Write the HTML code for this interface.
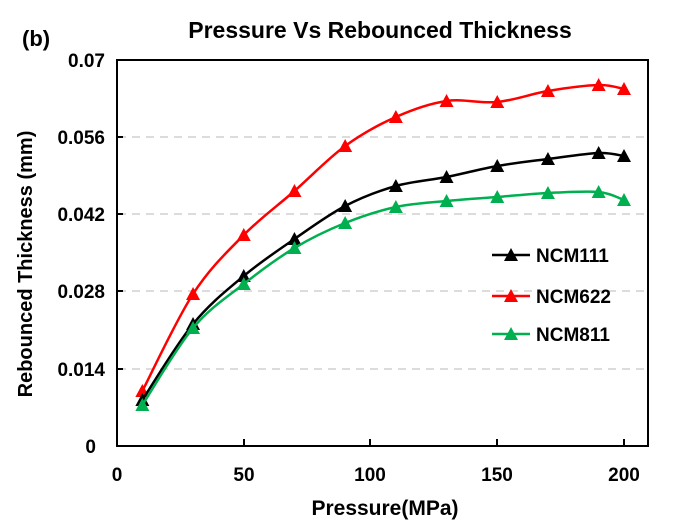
<!DOCTYPE html>
<html><head><meta charset="utf-8"><style>
body{margin:0;background:#fff;}
svg{display:block;font-family:"Liberation Sans",sans-serif;font-weight:bold;}
</style></head><body>
<svg id="s" width="683" height="525" xmlns="http://www.w3.org/2000/svg">
<rect width="683" height="525" fill="#fff"/>
<text x="22" y="46" font-size="22">(b)</text>
<text x="380" y="38" font-size="23" text-anchor="middle">Pressure Vs Rebounced Thickness</text>
<g stroke="#c8c8c8" stroke-width="1.3" stroke-dasharray="8,6">
<line x1="118" y1="369" x2="648" y2="369"/>
<line x1="118" y1="291" x2="648" y2="291"/>
<line x1="118" y1="214" x2="648" y2="214"/>
<line x1="118" y1="137" x2="648" y2="137"/>
</g>
<rect x="117" y="60" width="531" height="386" fill="none" stroke="#000" stroke-width="2"/>
<g stroke="#000" stroke-width="2">
<line x1="244" y1="446" x2="244" y2="439"/><line x1="370" y1="446" x2="370" y2="439"/><line x1="497" y1="446" x2="497" y2="439"/><line x1="624" y1="446" x2="624" y2="439"/>
<line x1="117" y1="369" x2="123" y2="369"/><line x1="117" y1="291" x2="123" y2="291"/><line x1="117" y1="214" x2="123" y2="214"/><line x1="117" y1="137" x2="123" y2="137"/>
</g>
<g font-size="19" text-anchor="end">
<text x="96" y="453">0</text><text x="105" y="376">0.014</text><text x="105" y="298">0.028</text><text x="105" y="221">0.042</text><text x="105" y="144">0.056</text><text x="105" y="67">0.07</text>
</g>
<g font-size="19" text-anchor="middle">
<text x="117" y="481">0</text><text x="244" y="481">50</text><text x="370" y="481">100</text><text x="497" y="481">150</text><text x="624" y="481">200</text>
</g>
<text x="385" y="515" font-size="21" text-anchor="middle">Pressure(MPa)</text>
<text transform="translate(32,264) rotate(-90)" font-size="20" text-anchor="middle">Rebounced Thickness  (mm)</text>
<g id="series"></g>
<g font-size="19">
<line x1="492" y1="255" x2="530" y2="255" stroke="#000" stroke-width="2.5"/><polygon points="511,248 504,261 518,261" fill="#000"/><text x="536" y="262">NCM111</text>
<line x1="492" y1="296" x2="530" y2="296" stroke="#ff0000" stroke-width="2.5"/><polygon points="511,289 504,302 518,302" fill="#ff0000"/><text x="536" y="303">NCM622</text>
<line x1="492" y1="334" x2="530" y2="334" stroke="#00b050" stroke-width="2.5"/><polygon points="511,327 504,340 518,340" fill="#00b050"/><text x="536" y="341">NCM811</text>
</g>
</svg>
<script>
var xs=[10,30,50,70,90,110,130,150,170,190,200];
var S=[
 ["#ff0000",[391,294,235,191,146,117,101,102,91,85,89]],
 ["#000",[400,324,276,239,206,186,177,166,159,153,156]],
 ["#00b050",[405,328,284,248,223,207,201,197,193,192,200]]
];
var g=document.getElementById("series"),h="";
S.forEach(function(s){
 var p=xs.map(function(x,i){return [117+x*2.535,s[1][i]];});
 var d="M"+p[0][0]+","+p[0][1];
 for(var i=0;i<p.length-1;i++){
  var p0=p[i-1]||p[i],p1=p[i],p2=p[i+1],p3=p[i+2]||p2,t=6;
  d+=" C"+(p1[0]+(p2[0]-p0[0])/t)+","+(p1[1]+(p2[1]-p0[1])/t)+" "+(p2[0]-(p3[0]-p1[0])/t)+","+(p2[1]-(p3[1]-p1[1])/t)+" "+p2[0]+","+p2[1];
 }
 h+='<path d="'+d+'" fill="none" stroke="'+s[0]+'" stroke-width="2.5"/>';
 p.forEach(function(q){h+='<polygon points="'+q[0]+','+(q[1]-7)+' '+(q[0]-7)+','+(q[1]+6)+' '+(q[0]+7)+','+(q[1]+6)+'" fill="'+s[0]+'"/>';});
});
g.innerHTML=h;
</script>
</body></html>
